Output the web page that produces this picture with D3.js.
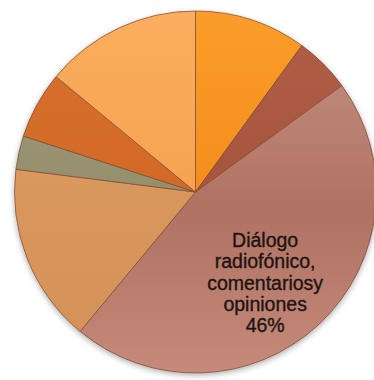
<!DOCTYPE html>
<html>
<head>
<meta charset="utf-8">
<script src="https://cdn.jsdelivr.net/npm/d3@7"></script>
<style>
  html, body { margin: 0; padding: 0; background: #ffffff; }
  svg { display: block; }
</style>
</head>
<body>
<div id="chart"></div>
<script>
// Share of each programme content type (percent), clockwise from 12 o'clock
const values = [10, 5, 46, 16, 3, 6, 14];
const labels = [null, null, "Diálogo|radiofónico,|comentariosy|opiniones", null, null, null, null];
const percentLabels = ["10%", "5%", "46%", "16%", "3%", "6%", "14%"];

// Slice fills: [top, middle, bottom] gradient stops
const sliceColors = [
  ["#fb9d2a", "#f38c1a", "#ee8616"],
  ["#b25f48", "#a5533d", "#a2513c"],
  ["#c69385", "#b07262", "#c58a7b"],
  ["#dfa26a", "#d8965b", "#d49259"],
  ["#a29b7a", "#958e6c", "#8c8662"],
  ["#d9722f", "#d26825", "#cc6322"],
  ["#fbae5e", "#f6a24f", "#f29c48"]
];

const W = 374, H = 380;
const cx = 195.5, cy = 192, r = 181;

const svg = d3.select("#chart").append("svg")
  .attr("width", W).attr("height", H);

const defs = svg.append("defs");

// soft shadow around the disc
const shadow = defs.append("filter").attr("id", "pieShadow")
  .attr("x", "-10%").attr("y", "-10%").attr("width", "120%").attr("height", "120%");
shadow.append("feGaussianBlur").attr("in", "SourceAlpha").attr("stdDeviation", 3).attr("result", "b");
shadow.append("feOffset").attr("in", "b").attr("dx", 0).attr("dy", 2).attr("result", "o");
shadow.append("feComponentTransfer").attr("in", "o").attr("result", "s")
  .append("feFuncA").attr("type", "linear").attr("slope", 0.35);
const merge = shadow.append("feMerge");
merge.append("feMergeNode").attr("in", "s");
merge.append("feMergeNode").attr("in", "SourceGraphic");

sliceColors.forEach((c, i) => {
  const g = defs.append("linearGradient").attr("id", "grad" + i)
    .attr("gradientUnits", "userSpaceOnUse")
    .attr("x1", 0).attr("y1", -r).attr("x2", 0).attr("y2", r);
  g.append("stop").attr("offset", "0%").attr("stop-color", c[0]);
  g.append("stop").attr("offset", "55%").attr("stop-color", c[1]);
  g.append("stop").attr("offset", "100%").attr("stop-color", c[2]);
});

const pie = d3.pie().sort(null).value(d => d);
const arcs = pie(values);
const arc = d3.arc().innerRadius(0).outerRadius(r);

const g = svg.append("g").attr("transform", `translate(${cx},${cy})`);

g.append("circle").attr("r", r).attr("fill", "#b07262").attr("filter", "url(#pieShadow)");

g.selectAll("path.slice").data(arcs).enter().append("path")
  .attr("class", "slice")
  .attr("d", arc)
  .attr("fill", (d, i) => `url(#grad${i})`)
  .attr("stroke", "#7d4b32")
  .attr("stroke-opacity", 0.75)
  .attr("stroke-width", 0.9)
  .attr("stroke-linejoin", "round");

// labels inside slices that carry one
const labelArc = d3.arc().innerRadius(r * 0.55).outerRadius(r * 0.55);
arcs.forEach((d, i) => {
  if (!labels[i]) return;
  const lines = labels[i].split("|").concat([percentLabels[i]]);
  const [lx, ly] = labelArc.centroid(d);
  const lineH = 21.3;
  const t = g.append("text")
    .attr("text-anchor", "middle")
    .attr("font-family", "'Liberation Sans', Arial, sans-serif")
    .attr("font-size", 19.5)
    .attr("fill", "#1c1412")
    .attr("stroke", "#1c1412")
    .attr("stroke-width", 0.35);
  lines.forEach((ln, k) => {
    t.append("tspan")
      .attr("x", lx + 1.5)
      .attr("y", ly + (k - (lines.length - 1) / 2) * lineH + 25)
      .text(ln);
  });
});
</script>
</body>
</html>
